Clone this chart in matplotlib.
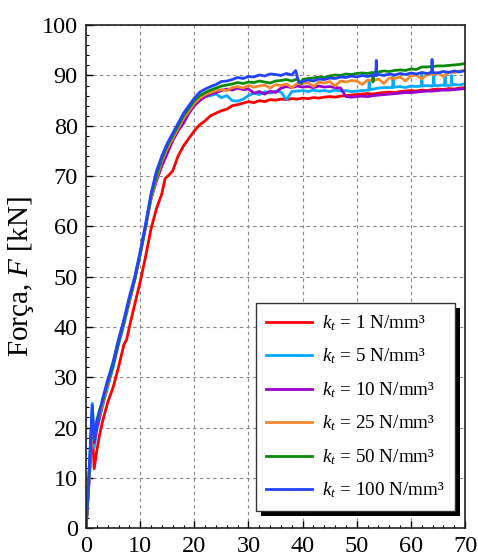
import numpy as np
import matplotlib
matplotlib.use("Agg")
import matplotlib.pyplot as plt
from matplotlib.patches import Rectangle

plt.rcParams['font.family'] = ['Liberation Serif', 'DejaVu Serif']
plt.rcParams['mathtext.fontset'] = 'custom'
plt.rcParams['mathtext.rm'] = 'Liberation Serif'
plt.rcParams['mathtext.it'] = 'Liberation Serif:italic'

# stiffness values (legend)
kt_values = [1, 5, 10, 25, 50, 100]
colors = ['#ff0000', '#00aaff', '#9900cc', '#f5872f', '#0a8a0a', '#2244ff']

# early (loading) part shared x positions
x_early = [0, 0.6, 1.15, 1.5, 2, 2.5, 3, 4, 5, 6, 7, 8, 9, 10, 11, 12, 13,
           14, 15, 16, 17, 18, 19]
x_plat = list(range(20, 71))

# k = 1
x_k1 = [0, 0.7, 1.1, 1.5, 2, 2.5, 3, 4, 5, 6, 7, 7.5, 8, 9, 10, 11, 12, 13,
        14, 14.6, 15.3, 16, 17, 18, 19] + x_plat
y_k1 = [0, 12, 21, 11.8, 15.5, 18.5, 21, 25, 28, 32, 36.5, 37.5, 40, 44.5,
        49, 54, 59.5, 63.5, 66.5, 69.5, 70.2, 71, 74, 76, 77.5,
        79.0, 80.2, 81.0, 82.0, 82.5, 83.0, 83.3, 84.0, 84.2, 84.5,
        84.8, 84.6, 85.0, 84.8, 85.2, 85.1, 85.3, 85.2, 85.4, 85.3,
        85.5, 85.4, 85.6, 85.5, 85.7, 85.8, 85.7, 85.9, 86.0, 86.1,
        86.2, 86.3, 86.4, 86.3, 86.5, 86.6, 86.7, 86.6, 86.8, 86.9,
        87.0, 86.9, 87.1, 87.0, 87.2, 87.3, 87.2, 87.4, 87.3, 87.5, 87.6]

# k = 5
x_k5 = x_early + [20, 21, 22, 23, 24, 25, 26, 27, 28, 29,
                  30, 31, 32, 33, 34, 35, 36, 37, 38, 39,
                  40, 41, 42, 43, 44, 45, 46, 47, 48, 49,
                  50, 51, 52.2, 52.3, 52.4, 53, 54, 55, 56,
                  56.6, 56.7, 56.8, 57, 58, 59, 60, 61,
                  61.9, 62.0, 62.1, 63, 64, 64.1, 64.2, 64.3,
                  65, 66, 66.2, 66.3, 66.4, 67, 67.4, 67.5, 67.6,
                  68, 69, 70]
y_k5 = [0, 12, 24.8, 16, 19.5, 22, 24, 28, 32, 36.5, 40.5, 45, 49.5, 54.5,
        60, 65.5, 69.5, 72.5, 75, 77.5, 79.5, 81.5, 83,
        84.3, 85.2, 85.8, 86.0, 86.3, 85.6, 86.0, 85.0, 84.9, 85.3,
        86.0, 86.5, 86.2, 86.8, 86.5, 86.9, 86.7, 85.2, 86.8, 86.9,
        87.0, 86.8, 87.1, 86.9, 87.0, 86.8, 87.1, 86.9, 87.0, 86.8,
        86.9, 87.0, 87.1, 88.8, 87.2, 87.3, 87.5, 87.6, 87.6,
        87.6, 90.0, 87.7, 87.7, 87.8, 87.6, 87.9, 87.8,
        87.9, 90.2, 87.9, 88.0, 87.9, 88.0, 90.0, 88.0,
        88.0, 88.1, 88.0, 90.1, 88.1, 88.0, 88.1, 90.0, 88.1,
        88.2, 88.1, 88.4]

# k = 10
x_k10 = x_early + x_plat
y_k10 = [0, 10, 19, 17, 20, 22, 24.5, 28.5, 32.5, 37, 41, 45, 49.5, 54.5,
         60, 65.5, 69, 72, 74.5, 77, 79, 80.5, 82.5,
         84.0, 85.0, 85.8, 86.3, 86.6, 87.0, 87.3, 87.1, 87.5, 87.2,
         87.3, 86.5, 86.8, 86.3, 86.9, 86.6, 87.5, 87.8, 87.6, 87.9,
         87.7, 87.8, 87.6, 87.9, 87.7, 87.8, 87.6, 87.5, 85.8, 85.7,
         85.8, 85.9, 85.8, 86.0, 86.1, 86.2, 86.3, 86.4, 86.5, 86.6,
         86.6, 86.7, 86.8, 86.9, 86.9, 87.0, 87.1, 87.1, 87.2, 87.3, 87.4]

# k = 25
x_k25 = x_early + x_plat
y_k25 = [0, 10, 20, 18, 21, 22.5, 24.5, 28.5, 33, 37.5, 41, 45, 49.5, 54.5,
         60, 65.5, 69.5, 73, 75.5, 77.5, 79.5, 81.5, 83,
         84.5, 85.5, 86.2, 86.6, 87.0, 87.2, 87.0, 87.6, 87.8, 87.5,
         88.0, 87.7, 87.9, 88.1, 87.5, 88.2, 88.0, 88.3, 87.6, 88.4,
         88.4, 88.6, 87.8, 88.7, 88.5, 88.8, 87.9, 88.9, 88.7, 89.0,
         88.9, 88.2, 89.1, 89.0, 89.3, 88.4, 89.5, 89.4, 89.7, 88.9,
         89.9, 90.1, 89.3, 90.3, 90.2, 90.5, 89.8, 90.7, 90.6, 90.9, 91.0]

# k = 50
x_k50 = x_early + [20, 21, 22, 23, 24, 25, 26, 27, 28, 29, 30, 31, 32, 33, 34,
                   35, 36, 37, 38, 39, 39.8, 40, 41, 42, 43, 44, 45, 46, 47,
                   48, 49, 50, 51, 52, 52.8, 53, 53.2, 54, 55, 56, 57, 58, 59,
                   60, 61, 62, 63, 64, 65, 66, 67, 68, 69, 70]
y_k50 = [0, 11, 22, 18.5, 21.5, 23.5, 25, 29, 32.5, 37, 41, 45.5, 49.5, 54.5,
         60, 66, 70, 73.5, 76, 78, 80, 82, 83.5,
         85.0, 86.0, 86.6, 87.1, 87.5, 87.9, 88.1, 88.3, 88.6, 88.4,
         88.7, 88.6, 88.9, 88.7, 88.5, 88.9, 89.0, 89.2, 88.9, 89.3,
         88.4, 89.2, 89.4, 89.5, 89.7, 89.6, 89.9, 90.1, 90.0, 90.3,
         90.2, 90.4, 90.5, 90.4, 90.6, 88.7, 90.6, 90.7, 90.9, 90.8,
         91.0, 91.1, 91.0, 91.3, 91.2, 91.7, 91.7, 91.8, 91.9, 91.9,
         92.0, 92.1, 92.2, 92.4]

# k = 100
x_k100 = x_early + [20, 21, 22, 23, 24, 25, 26, 27, 28, 29, 30, 31, 32, 33,
                    34, 35, 36, 37, 38, 38.7, 39.3, 40, 41, 42, 43, 44, 45,
                    46, 47, 48, 49, 50, 51, 52, 53, 53.5, 53.6, 53.7, 54, 55,
                    56, 57, 58, 59, 60, 61, 62, 63, 63.8, 63.9, 64.0, 65, 66,
                    67, 68, 69, 70]
y_k100 = [0, 12, 24.5, 17.5, 21, 23, 25.5, 29.5, 33, 37.5, 41.5, 46, 50, 55,
          60.5, 66.5, 71, 74, 76.5, 78.5, 80.5, 82.5, 84,
          85.5, 86.7, 87.3, 87.8, 88.2, 88.8, 88.9, 89.2, 89.6, 89.4,
          89.8, 89.7, 90.1, 89.9, 90.3, 90.2, 90.0, 90.4, 90.1, 91.0,
          88.6, 88.8, 89.1, 88.9, 89.3, 89.2, 89.5, 89.4, 89.7, 89.6,
          89.9, 89.7, 90.0, 89.8, 90.1, 90.0, 93.0, 90.0, 90.2, 90.0,
          90.3, 90.1, 90.4, 90.2, 90.5, 90.3, 90.6, 90.4, 90.6, 93.2,
          90.6, 90.5, 90.8, 90.6, 90.9, 90.7, 91.0]

series_x = [x_k1, x_k5, x_k10, x_k25, x_k50, x_k100]
series_y = [y_k1, y_k5, y_k10, y_k25, y_k50, y_k100]

fig = plt.figure(figsize=(4.78, 5.6), dpi=100)
ax = fig.add_axes([0.18, 0.057, 0.793, 0.898])

for xs, ys, kt, c in zip(series_x, series_y, kt_values, colors):
    ax.plot(xs, ys, color=c, lw=2.0, label=r'$k_t$ = %d N/mm³' % kt)

ax.set_xlim(0, 70)
ax.set_ylim(0, 100)
ax.set_xticks(np.arange(0, 71, 10))
ax.set_yticks(np.arange(0, 101, 10))
ax.set_xticks(np.arange(0, 71, 2), minor=True)
ax.set_yticks(np.arange(0, 101, 2), minor=True)
ax.tick_params(which='both', direction='in', top=False, right=False,
               labelsize=17.5, pad=6)
ax.tick_params(which='major', length=5, width=1)
ax.tick_params(which='minor', length=2.5, width=0.8)
ax.grid(True, which='major', color='#888888', ls=(0, (3, 3)), lw=0.8)
for s in ax.spines.values():
    s.set_linewidth(1.2)
    s.set_color('#222222')

ax.set_ylabel(r'Força, $F$ [kN]', fontsize=21, labelpad=4)

leg = ax.legend(loc='lower right', bbox_to_anchor=(0.974, 0.034),
                fontsize=13.8, fancybox=False, framealpha=1,
                edgecolor='#333333', handlelength=2.4, handletextpad=0.5,
                labelspacing=0.72, borderpad=0.55, borderaxespad=0)
leg.get_frame().set_linewidth(1.0)
leg.set_zorder(6)

# black drop shadow behind the legend box
fig.canvas.draw()
bb = leg.get_window_extent()
shadow = Rectangle((bb.x0 + 5, bb.y0 - 5), bb.width, bb.height,
                   transform=None, facecolor='black', edgecolor='none',
                   zorder=5.5)
ax.add_artist(shadow)

fig.savefig('out.png', dpi=100)
